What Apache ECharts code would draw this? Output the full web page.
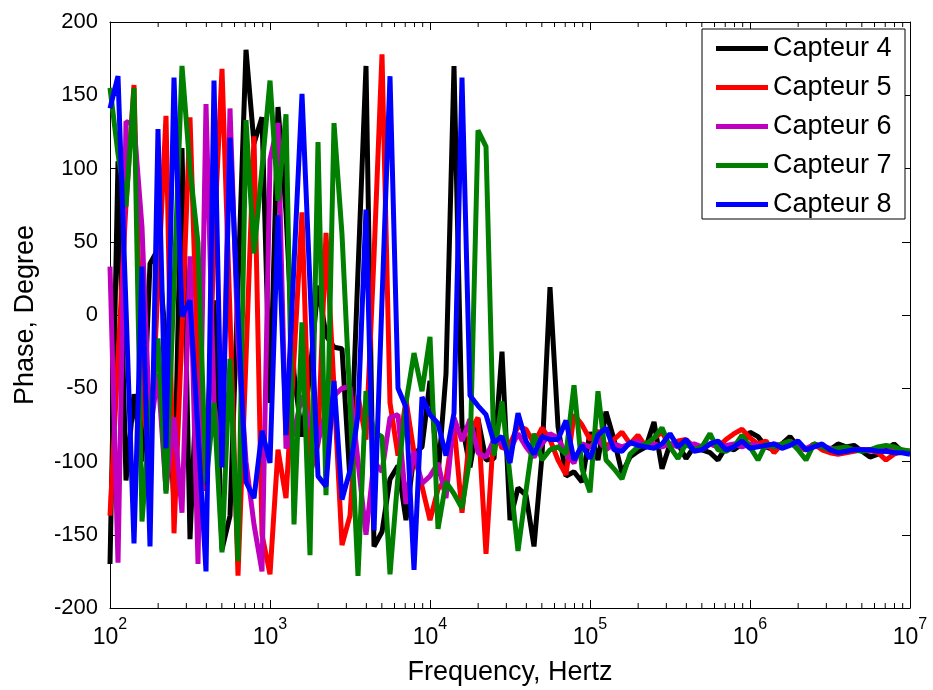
<!DOCTYPE html>
<html>
<head>
<meta charset="utf-8">
<script src="https://cdn.jsdelivr.net/npm/echarts@6/dist/echarts.min.js"></script>
<style>
html,body{margin:0;padding:0;background:#fff;}
#chart{width:933px;height:690px;}
</style>
</head>
<body>
<div id="chart"></div>
<script>
// Frequency sampling: log-spaced, 20 points per decade from 1e2 to 1e7
const FREQ_START_EXP = 2;
const POINTS_PER_DECADE = 20;
const N_POINTS = 101;

const seriesNames = ['Capteur 4', 'Capteur 5', 'Capteur 6', 'Capteur 7', 'Capteur 8'];
const seriesColors = ['#000000', '#ff0000', '#bf00bf', '#007f00', '#0000ff'];

const capteur4 = [-170,105,-113,-54,-100,35,45,-20,-130,114,-153,-25,-95,10,-160,-137,20,181,117,135,
  -60,142,70,-40,-83,-40,20,-14,-22,-23,-113,30,170,-158,-148,-112,-103,-140,-95,-90,
  -45,-110,-40,170,-75,-104,-71,-99,-98,-25,-140,-118,-123,-158,-96,19,-76,-110,-107,-114,
  -80,-99,-66,-85,-108,-97,-93,-90,-73,-105,-88,-88,-98,-90,-92,-94,-99,-90,-92,-88,
  -80,-83,-90,-92,-88,-83,-90,-92,-88,-90,-92,-88,-90,-89,-93,-97,-95,-92,-88,-93,-93];

const capteur5 = [-137,-30,76,157,-60,-95,20,136,-149,-10,135,-40,-120,50,168,0,-178,-30,122,-150,
  -177,-92,-125,-30,70,-109,-88,56,-50,-157,-137,-55,-85,40,178,-60,-96,-58,-94,-117,
  -140,-119,-112,-75,-135,-80,-70,-163,-76,-91,-88,-76,-78,-88,-77,-85,-99,-109,-68,-75,
  -85,-79,-90,-85,-80,-88,-82,-90,-84,-80,-90,-86,-85,-90,-92,-88,-90,-85,-81,-78,
  -84,-88,-86,-94,-88,-86,-90,-92,-88,-92,-94,-95,-94,-93,-92,-92,-94,-99,-95,-93,-94];

const capteur6 = [33,-169,132,130,60,-80,-40,-120,-70,-135,40,-170,144,-60,-100,141,-20,-100,-143,-175,
  106,131,-91,-80,-55,-75,-87,-65,-55,-50,-49,-100,-150,-100,-107,-70,-68,-129,-93,-115,
  -110,-101,-125,-70,-86,-71,-94,-97,-85,-88,-92,-81,-90,-97,-88,-81,-84,-95,-101,-88,
  -90,-85,-92,-88,-90,-88,-86,-90,-88,-90,-88,-90,-89,-88,-90,-88,-90,-89,-88,-90,
  -88,-89,-90,-88,-89,-88,-90,-91,-89,-90,-91,-92,-91,-92,-92,-93,-92,-93,-92,-93,-93];

const capteur7 = [155,110,74,155,-141,-70,-16,-122,20,170,100,49,-115,-60,-162,-30,-168,133,42,100,
  160,78,137,-143,-5,-164,118,-123,131,55,-60,-178,-52,-80,-83,-177,-110,-60,-26,-52,
  -15,-146,-114,-122,-132,-97,126,115,-96,-59,-110,-161,-120,-81,-99,-92,-90,-95,-48,-105,
  -121,-52,-99,-105,-112,-95,-90,-88,-84,-77,-90,-98,-88,-92,-90,-81,-92,-93,-90,-82,
  -90,-99,-88,-90,-88,-86,-92,-99,-88,-90,-92,-91,-90,-92,-93,-92,-90,-89,-90,-92,-93];

const capteur8 = [141,163,5,-156,33,-158,127,-91,162,-1,10,-80,-175,160,-104,121,0,-114,-125,-79,
  -101,68,-82,35,151,20,-110,-117,-45,-126,-106,-68,72,-147,10,163,-50,-63,-174,-56,
  -68,-74,-96,-67,162,-55,-62,-68,-87,-83,-101,-67,-86,-95,-83,-85,-85,-72,-99,-89,
  -98,-82,-77,-92,-93,-87,-89,-90,-91,-88,-81,-90,-85,-93,-92,-88,-86,-92,-90,-86,
  -91,-90,-89,-88,-91,-89,-86,-92,-90,-88,-92,-94,-93,-92,-92,-92,-93,-93,-94,-94,-95];

const yTicks = [-200, -150, -100, -50, 0, 50, 100, 150, 200];
const xMajorExps = [2, 3, 4, 5, 6, 7];
const minorMultipliers = [2, 3, 4, 5, 6, 7, 8, 9];

const allValues = [capteur4, capteur5, capteur6, capteur7, capteur8];

const freqs = [];
for (let i = 0; i < N_POINTS; i++) freqs.push(Math.pow(10, FREQ_START_EXP + i / POINTS_PER_DECADE));

const minorFreqs = [];
for (let e = 2; e < 7; e++) minorMultipliers.forEach(m => minorFreqs.push([m * Math.pow(10, e), 0]));

const FONT = 'Liberation Sans, Arial, sans-serif';
const chart = echarts.init(document.getElementById('chart'), null, {renderer: 'canvas'});

const lineSeries = seriesNames.map((name, k) => ({
  name: name,
  type: 'line',
  data: freqs.map((f, i) => [f, allValues[k][i]]),
  showSymbol: false,
  symbol: 'none',
  lineStyle: {color: seriesColors[k], width: 5},
  itemStyle: {color: seriesColors[k]},
  z: 2 + k,
  animation: false
}));

const tickSeries = {
  type: 'custom',
  data: minorFreqs,
  encode: {x: 0, y: 1},
  clip: false,
  silent: true,
  z: 20,
  renderItem: function (params, api) {
    const f = api.value(0);
    const pb = api.coord([f, yTicks[0]]);
    const pt = api.coord([f, yTicks[yTicks.length - 1]]);
    return {
      type: 'group',
      children: [
        {type: 'line', shape: {x1: pb[0], y1: pb[1], x2: pb[0], y2: pb[1] - 5}, style: {stroke: '#000', lineWidth: 1}},
        {type: 'line', shape: {x1: pt[0], y1: pt[1], x2: pt[0], y2: pt[1] + 5}, style: {stroke: '#000', lineWidth: 1}}
      ]
    };
  }
};

const xCommon = {
  type: 'log',
  logBase: 10,
  min: Math.pow(10, xMajorExps[0]),
  max: Math.pow(10, xMajorExps[xMajorExps.length - 1]),
  splitLine: {show: false},
  axisLine: {show: true, onZero: false, lineStyle: {color: '#000', width: 1}},
  axisTick: {show: true, inside: true, length: 8, lineStyle: {color: '#000'}},
};

const option = {
  animation: false,
  backgroundColor: '#fff',
  grid: {left: 110, right: 23, top: 22, bottom: 82, containLabel: false, outerBoundsMode: 'none'},
  legend: {
    data: seriesNames,
    orient: 'vertical',
    right: 28,
    top: 29,
    icon: 'rect',
    itemWidth: 52,
    itemHeight: 5,
    itemGap: 12,
    padding: [6, 8, 1, 14],
    borderColor: '#000',
    borderWidth: 1,
    backgroundColor: '#fff',
    textStyle: {fontSize: 27, lineHeight: 27, width: 124, fontFamily: FONT, color: '#000'},
    z: 30
  },
  xAxis: [
    Object.assign({}, xCommon, {
      position: 'bottom',
      name: 'Frequency, Hertz',
      nameLocation: 'middle',
      nameGap: 51,
      nameMoveOverlap: false,
      nameTextStyle: {fontSize: 27, fontFamily: FONT, color: '#000'},
      axisLabel: {
        show: true,
        margin: 9,
        formatter: function (v) {
          return '{b|10}{e|' + Math.round(Math.log10(v)) + '}';
        },
        rich: {
          b: {fontSize: 23, fontFamily: FONT, color: '#000', verticalAlign: 'bottom'},
          e: {fontSize: 16, fontFamily: FONT, color: '#000', verticalAlign: 'top', padding: [0, 0, 16, 0]}
        }
      }
    }),
    Object.assign({}, xCommon, {
      position: 'top',
      axisLabel: {show: false}
    })
  ],
  yAxis: [
    {
      type: 'value',
      min: yTicks[0],
      max: yTicks[yTicks.length - 1],
      interval: 50,
      position: 'left',
      name: 'Phase, Degree',
      nameLocation: 'middle',
      nameGap: 71,
      nameMoveOverlap: false,
      nameTextStyle: {fontSize: 27, fontFamily: FONT, color: '#000'},
      splitLine: {show: false},
      axisLine: {show: true, onZero: false, lineStyle: {color: '#000', width: 1}},
      axisTick: {show: true, inside: true, length: 8, lineStyle: {color: '#000'}},
      axisLabel: {fontSize: 22, fontFamily: FONT, color: '#000', margin: 12}
    },
    {
      type: 'value',
      min: yTicks[0],
      max: yTicks[yTicks.length - 1],
      interval: 50,
      position: 'right',
      splitLine: {show: false},
      axisLine: {show: true, onZero: false, lineStyle: {color: '#000', width: 1}},
      axisTick: {show: true, inside: true, length: 8, lineStyle: {color: '#000'}},
      axisLabel: {show: false}
    }
  ],
  series: lineSeries.concat([tickSeries])
};

chart.setOption(option);
</script>
</body>
</html>
